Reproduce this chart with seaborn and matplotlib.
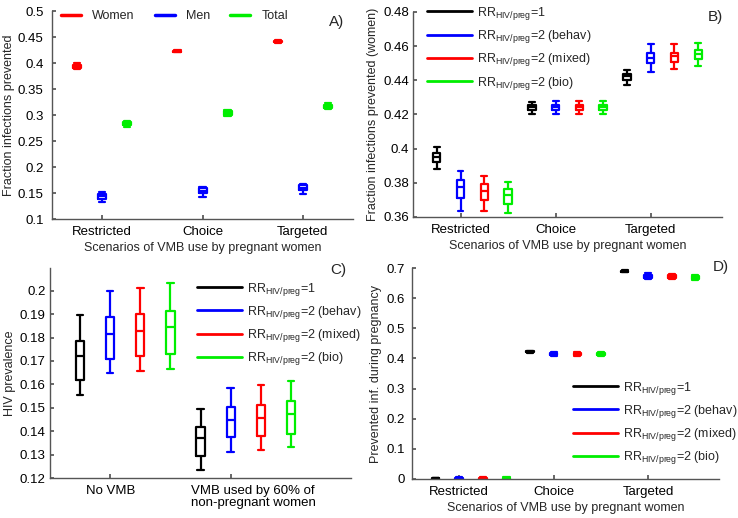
import numpy as np
import pandas as pd
import matplotlib
matplotlib.use('Agg')
import matplotlib.pyplot as plt
import matplotlib.transforms as mtransforms
from matplotlib.lines import Line2D
from matplotlib.ticker import FuncFormatter
import seaborn as sns

# five-number summaries per box: [low whisker, q1, median, q3, high whisker]
scenarios = ['Restricted', 'Choice', 'Targeted']
vmb_levels = ['No VMB', 'VMB used by 60% of\nnon-pregnant women']
sex_labels = ['Women', 'Men', 'Total']
rr_labels = [r'RR$_{\mathrm{HIV/preg}}$=1',
             r'RR$_{\mathrm{HIV/preg}}$=2 (behav)',
             r'RR$_{\mathrm{HIV/preg}}$=2 (mixed)',
             r'RR$_{\mathrm{HIV/preg}}$=2 (bio)']

# A) fraction of infections prevented by sex
women_a = [[0.388, 0.391, 0.394, 0.397, 0.400],
           [0.4205, 0.422, 0.423, 0.424, 0.4255],
           [0.4385, 0.440, 0.441, 0.442, 0.4435]]
men_a = [[0.133, 0.138, 0.1435, 0.149, 0.152],
         [0.142, 0.150, 0.154, 0.159, 0.161],
         [0.148, 0.155, 0.160, 0.166, 0.168]]
total_a = [[0.277, 0.280, 0.283, 0.286, 0.289],
           [0.298, 0.301, 0.304, 0.307, 0.310],
           [0.311, 0.314, 0.317, 0.320, 0.323]]

# B) fraction of infections prevented (women)
rr1_b = [[0.3883, 0.3922, 0.3951, 0.3975, 0.401],
         [0.4205, 0.4228, 0.4244, 0.4257, 0.4273],
         [0.4371, 0.4404, 0.4423, 0.4439, 0.446]]
behav_b = [[0.3635, 0.3711, 0.3776, 0.3815, 0.3869],
           [0.4205, 0.4228, 0.4244, 0.4257, 0.428],
           [0.4449, 0.4501, 0.4533, 0.456, 0.4615]]
mixed_b = [[0.3635, 0.3698, 0.3752, 0.3795, 0.384],
           [0.4205, 0.4228, 0.4244, 0.4257, 0.4278],
           [0.4468, 0.4507, 0.454, 0.456, 0.4615]]
bio_b = [[0.3625, 0.3678, 0.3727, 0.3762, 0.3805],
         [0.4205, 0.4228, 0.4244, 0.4257, 0.4278],
         [0.4484, 0.4527, 0.4552, 0.4576, 0.462]]

# C) HIV prevalence
rr1_c = [[0.1556, 0.1617, 0.1720, 0.1786, 0.1895],
         [0.1233, 0.1295, 0.1371, 0.1416, 0.1496]]
behav_c = [[0.1648, 0.1710, 0.1815, 0.1889, 0.2000],
           [0.1311, 0.1374, 0.1446, 0.1502, 0.1584]]
mixed_c = [[0.1656, 0.1720, 0.1826, 0.1902, 0.2011],
           [0.1321, 0.1378, 0.1456, 0.1510, 0.1599]]
bio_c = [[0.1667, 0.1730, 0.1845, 0.1915, 0.2033],
         [0.1331, 0.1389, 0.1473, 0.1527, 0.1613]]

# D) prevented infections during pregnancy
rr1_d = [[0.000, 0.001, 0.002, 0.003, 0.004],
         [0.419, 0.421, 0.4225, 0.424, 0.426],
         [0.686, 0.688, 0.689, 0.690, 0.692]]
behav_d = [[0.000, 0.001, 0.002, 0.003, 0.005],
           [0.408, 0.411, 0.4155, 0.419, 0.422],
           [0.664, 0.668, 0.6735, 0.678, 0.682]]
mixed_d = [[0.000, 0.001, 0.002, 0.003, 0.005],
           [0.408, 0.411, 0.4155, 0.419, 0.422],
           [0.663, 0.667, 0.672, 0.676, 0.680]]
bio_d = [[0.000, 0.001, 0.002, 0.003, 0.005],
         [0.407, 0.410, 0.4135, 0.417, 0.420],
         [0.660, 0.664, 0.669, 0.673, 0.677]]

colors_a = ['#ff0000', '#0000ff', '#00ee00']
colors_rr = ['#000000', '#0000ff', '#ff0000', '#00ee00']

sns.set_theme(style='ticks')
plt.rcParams['font.family'] = ['Liberation Sans', 'DejaVu Sans']
plt.rcParams['mathtext.fontset'] = 'custom'
plt.rcParams['mathtext.rm'] = 'Liberation Sans'
plt.rcParams['mathtext.it'] = 'Liberation Sans:italic'
FS = 9


def long_table(names, summaries, offsets):
    rows = []
    for s, name in enumerate(names):
        for g, five in enumerate(summaries[s]):
            for v in five:
                rows.append({'pos': g + 1 + offsets[s], 'series': name, 'value': v})
    return pd.DataFrame(rows)


def draw_panel(ax, names, summaries, colors, offsets, width, xlim, ylim, yticks, ypad=5):
    df = long_table(names, summaries, offsets)
    sns.boxplot(data=df, x='pos', y='value', hue='series', hue_order=names,
                palette=dict(zip(names, colors)), native_scale=True, dodge=False,
                fill=False, whis=(0, 100), width=width, linewidth=1.6,
                capwidths=width * 0.25 * 0.8, legend=False, ax=ax)
    ax.set_xlabel('')
    ax.set_xlim(*xlim)
    ax.set_ylim(*ylim)
    ax.set_yticks(yticks)
    ax.yaxis.set_major_formatter(FuncFormatter(lambda v, p: f'{v:g}'))
    ax.tick_params(direction='in', length=3, color='#555555', labelsize=FS + 0.5,
                   labelcolor='black')
    ax.tick_params(axis='y', pad=ypad)
    ax.tick_params(axis='x', pad=5)
    for sp in ['left', 'bottom']:
        ax.spines[sp].set_color('#555555')
        ax.spines[sp].set_linewidth(1.0)
    sns.despine(ax=ax)


def rr_legend(ax, anchor):
    handles = [Line2D([], [], color=c, lw=2) for c in colors_rr]
    ax.legend(handles, rr_labels, loc='upper left', bbox_to_anchor=anchor,
              frameon=False, fontsize=FS, handlelength=3.6, handletextpad=0.4,
              labelspacing=0.5, borderpad=0, borderaxespad=0)


fig = plt.figure(figsize=(7.38, 5.18), dpi=100)
ax_a = fig.add_axes([0.0705, 0.5772, 0.4079, 0.4015])
ax_b = fig.add_axes([0.5596, 0.5811, 0.4187, 0.3958])
ax_c = fig.add_axes([0.0678, 0.0772, 0.4079, 0.4054])
ax_d = fig.add_axes([0.5583, 0.0753, 0.4160, 0.4073])

off3 = [-0.25, 0.0, 0.25]
off4 = [-0.25, 0.0, 0.25, 0.5]

# A
draw_panel(ax_a, sex_labels, [women_a, men_a, total_a], colors_a, off3, 0.32,
           (0.5, 3.5), (0.1, 0.5), np.arange(0.1, 0.501, 0.05), ypad=6)
ax_a.set_xticks([1, 2, 3], scenarios)
ax_a.set_xlabel('Scenarios of VMB use by pregnant women', fontsize=FS, labelpad=3)
ax_a.set_ylabel('Fraction infections prevented', fontsize=FS, labelpad=2)
handles = [Line2D([], [], color=c, lw=2.5) for c in colors_a]
ax_a.legend(handles, sex_labels, loc='upper left', bbox_to_anchor=(0.03, 1.005),
            ncol=3, frameon=False, fontsize=FS, handlelength=1.6,
            handletextpad=0.9, columnspacing=1.6, borderpad=0, borderaxespad=0)
ax_a.text(0.92, 0.947, 'A)', transform=ax_a.transAxes, fontsize=FS + 2, va='center')

# B
draw_panel(ax_b, rr_labels, [rr1_b, behav_b, mixed_b, bio_b], colors_rr, off4, 0.31,
           (0.5, 3.75), (0.36, 0.48), np.arange(0.36, 0.4801, 0.02), ypad=3)
ax_b.set_xticks([1, 2, 3], scenarios)
ax_b.set_xlabel('Scenarios of VMB use by pregnant women', fontsize=FS, labelpad=3)
ax_b.set_ylabel('Fraction infections prevented (women)', fontsize=FS, labelpad=3)
rr_legend(ax_b, (0.045, 1.035))
ax_b.text(0.955, 0.976, 'B)', transform=ax_b.transAxes, fontsize=FS + 2, va='center')

# C
draw_panel(ax_c, rr_labels, [rr1_c, behav_c, mixed_c, bio_c], colors_rr, off4, 0.27,
           (0.5, 3.0), (0.12, 0.2097), np.arange(0.12, 0.2001, 0.01), ypad=3)
ax_c.set_xticks([1, 2], vmb_levels)
for lab in ax_c.get_xticklabels():
    lab.set_multialignment('left')
    lab.set_linespacing(0.95)
shift = mtransforms.ScaledTranslation(23 / 100, 0, fig.dpi_scale_trans)
lab2 = ax_c.get_xticklabels()[1]
lab2.set_transform(lab2.get_transform() + shift)
ax_c.set_ylabel('HIV prevalence', fontsize=FS, labelpad=3)
rr_legend(ax_c, (0.488, 0.94))
ax_c.text(0.93, 0.99, 'C)', transform=ax_c.transAxes, fontsize=FS + 2, va='center')

# D
draw_panel(ax_d, rr_labels, [rr1_d, behav_d, mixed_d, bio_d], colors_rr, off4, 0.32,
           (0.5, 3.75), (0.0, 0.7), np.arange(0.0, 0.701, 0.1), ypad=5)
ax_d.set_xticks([1, 2, 3], scenarios)
ax_d.set_xlabel('Scenarios of VMB use by pregnant women', fontsize=FS, labelpad=3)
ax_d.set_ylabel('Prevented inf. during pregnancy', fontsize=FS, labelpad=3)
rr_legend(ax_d, (0.524, 0.471))
ax_d.text(0.98, 1.005, 'D)', transform=ax_d.transAxes, fontsize=FS + 2, va='center')

fig.savefig('out.png', dpi=100)
